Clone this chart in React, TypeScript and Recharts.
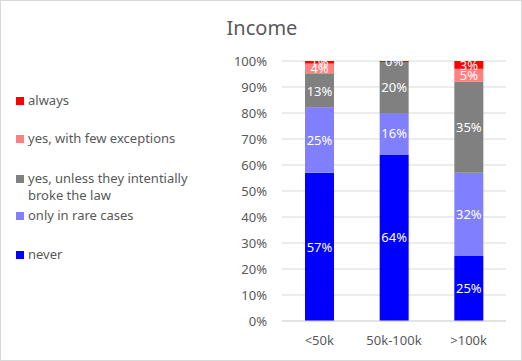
import React from 'react';
import {
  BarChart,
  Bar,
  XAxis,
  YAxis,
  CartesianGrid,
  LabelList,
} from 'recharts';

const categories = ['<50k', '50k-100k', '>100k'];
const never = [57, 64, 25];
const rareCases = [25, 16, 32];
const unlessIntentional = [13, 19.6, 35];
const fewExceptions = [4, 0, 5];
const always = [1, 0.4, 3];
const yTicks = [0, 10, 20, 30, 40, 50, 60, 70, 80, 90, 100];

const series = [
  { key: 'never', name: 'never', color: '#0000FF', values: never },
  { key: 'rare', name: 'only in rare cases', color: '#8080FF', values: rareCases },
  {
    key: 'unless',
    name: 'yes, unless they intentially broke the law',
    color: '#808080',
    values: unlessIntentional,
  },
  { key: 'few', name: 'yes, with few exceptions', color: '#FF8080', values: fewExceptions },
  { key: 'always', name: 'always', color: '#FF0000', values: always },
];

const data = categories.map((cat, i) => {
  const row: Record<string, string | number> = { cat };
  series.forEach((s) => {
    row[s.key] = s.values[i];
  });
  return row;
});

const FONT = '"Noto Sans", sans-serif';
const TEXT = '#595959';

// legend rows, top offsets follow the Excel spacing
const legendTops = [91, 129, 169, 206, 245];

function LegendBox() {
  const items = [...series].reverse();
  return (
    <div style={{ position: 'absolute', left: 0, top: 0, width: 200, height: 300 }}>
      {items.map((s, i) => (
        <div
          key={s.key}
          style={{
            position: 'absolute',
            left: 15,
            top: legendTops[i],
            display: 'flex',
            alignItems: 'flex-start',
            fontFamily: FONT,
            fontSize: 13,
            lineHeight: '17px',
            color: TEXT,
          }}
        >
          <span
            style={{
              display: 'inline-block',
              width: 8,
              height: 8,
              marginTop: 5,
              marginRight: 4,
              background: s.color,
              flexShrink: 0,
            }}
          />
          <span style={{ width: 175 }}>{s.name}</span>
        </div>
      ))}
    </div>
  );
}

const pct = (v: unknown) => {
  const n = Number(v);
  if (!n) return '';
  return `${Math.round(n)}%`;
};

export default function App() {
  return (
    <div
      style={{
        position: 'absolute',
        left: 0,
        top: 0,
        width: 522,
        height: 361,
        border: '1px solid #d9d9d9',
        boxSizing: 'border-box',
        background: '#fff',
      }}
    >
      <div
        style={{
          position: 'absolute',
          left: 0,
          width: 522,
          top: 13,
          textAlign: 'center',
          fontFamily: FONT,
          fontSize: 20,
          color: TEXT,
        }}
      >
        Income
      </div>
      <LegendBox />
      <div style={{ position: 'absolute', left: -1, top: -1 }}>
        <BarChart
          width={522}
          height={361}
          data={data}
          margin={{ top: 61, right: 16, bottom: 10, left: 232 }}
          barCategoryGap={23}
        >
          <CartesianGrid vertical={false} stroke="#d9d9d9" />
          <XAxis
            dataKey="cat"
            height={30}
            axisLine={{ stroke: '#d9d9d9' }}
            tickLine={false}
            tickMargin={9}
            tick={{ fontSize: 13, fill: TEXT, fontFamily: FONT }}
            interval={0}
          />
          <YAxis
            domain={[0, 100]}
            ticks={yTicks}
            interval={0}
            allowDataOverflow
            width={50}
            axisLine={false}
            tickLine={false}
            tickMargin={9}
            tickFormatter={(v: number) => `${v}%`}
            tick={{ fontSize: 13, fill: TEXT, fontFamily: FONT }}
          />
          {series.map((s) => (
            <Bar
              key={s.key}
              dataKey={s.key}
              name={s.name}
              stackId="a"
              fill={s.color}
              isAnimationActive={false}
            >
              <LabelList
                dataKey={s.key}
                position="center"
                formatter={pct}
                fill="#ffffff"
                style={{ fontSize: 13, fontFamily: FONT }}
              />
            </Bar>
          ))}
        </BarChart>
      </div>
    </div>
  );
}
